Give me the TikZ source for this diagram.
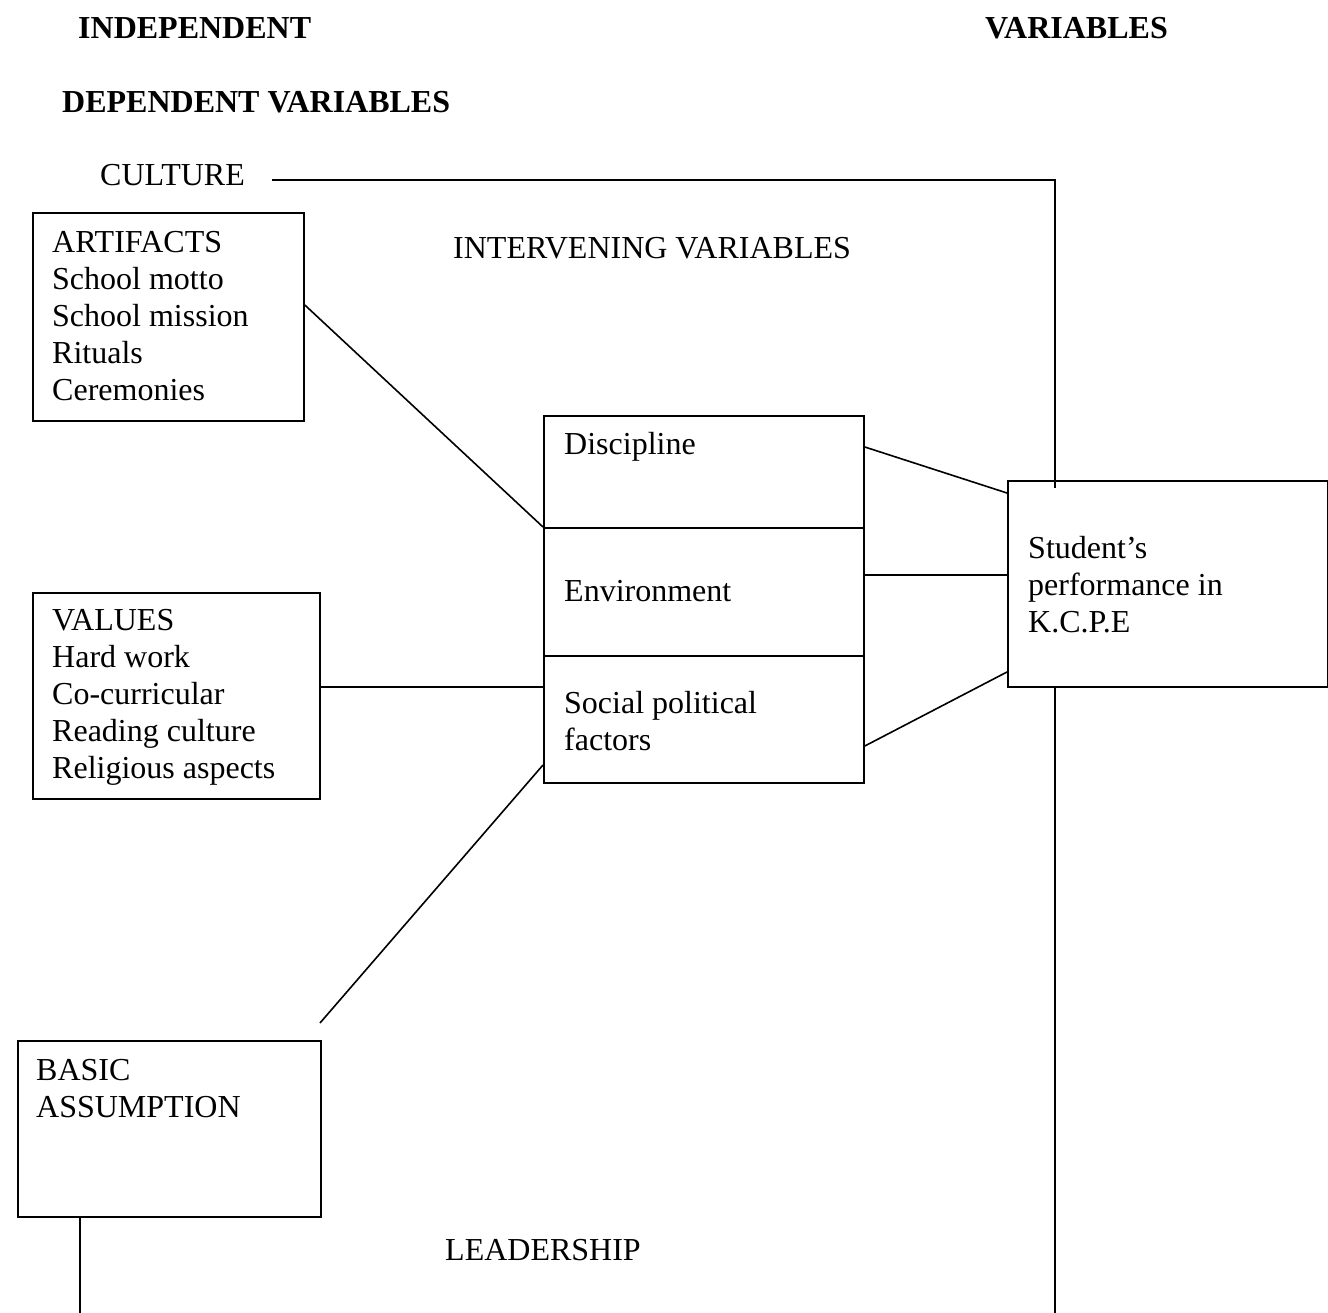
\documentclass[tikz,border=0pt]{standalone}
\usepackage{fontspec}
\setmainfont{Liberation Serif}
\begin{document}
\begin{tikzpicture}[x=1pt,y=-1pt,
  box/.style={draw, line width=1.8pt, inner sep=0pt, anchor=north west},
  txt/.style={inner sep=0pt, anchor=north west, align=left, font=\fontsize{32}{37}\selectfont},
  head/.style={txt, font=\fontsize{32}{37}\selectfont\bfseries},
  link/.style={line width=1.6pt}]
\useasboundingbox (0,0) rectangle (1328,1313);
% headings
\node[head] (indep) at (78,17) {INDEPENDENT};
\node[head] (vars) at (985,17) {VARIABLES};
\node[head] (dep) at (62,91) {DEPENDENT VARIABLES};
\node[txt] (culture) at (100,164) {CULTURE};
\node[txt] (interv) at (453,237) {INTERVENING VARIABLES};
\node[txt] (lead) at (445,1239) {LEADERSHIP};
% boxes
\node[box, minimum width=271pt, minimum height=208pt] (art) at (32,212) {};
\node[txt] (arttxt) at (52,231) {ARTIFACTS\\School motto\\School mission\\Rituals\\Ceremonies};
\node[box, minimum width=287pt, minimum height=206pt] (val) at (32,592) {};
\node[txt] (valtxt) at (52,609) {VALUES\\Hard work\\Co-curricular\\Reading culture\\Religious aspects};
\node[box, minimum width=303pt, minimum height=176pt] (bas) at (17,1040) {};
\node[txt] (bastxt) at (36,1059) {BASIC\\ASSUMPTION};
\node[box, minimum width=320pt, minimum height=112pt] (disc) at (543,415) {};
\node[box, minimum width=320pt, minimum height=128pt] (env) at (543,527) {};
\node[box, minimum width=320pt, minimum height=127pt] (soc) at (543,655) {};
\node[txt] (disctxt) at (564,432) {Discipline};
\node[txt] (envtxt) at (564,580) {Environment};
\node[txt] (soctxt) at (564,691) {Social political\\factors};
\node[box, minimum width=320pt, minimum height=206pt] (stu) at (1007,480) {};
\node[txt] (stutxt) at (1028,536) {Student’s\\performance in\\K.C.P.E};
% free ends
\coordinate (cultend) at (272,180);
\coordinate (cultcorner) at (1055,180);
\coordinate (cultin) at (1055,488);
\coordinate (basend) at (320,1023);
\coordinate (botL) at (80,1313);
\coordinate (botR) at (1055,1313);
% connectors
\draw[link] (cultend) -- (cultcorner) -- (cultin);
\draw[link] (art.east |- 0,305) -- (env.north west);
\draw[link] (val.east |- 0,687) -- (soc.west |- 0,687);
\draw[link] (basend) -- (soc.west |- 0,765);
\draw[link] (disc.east |- 0,447) -- (stu.west |- 0,493);
\draw[link] (env.east |- 0,575) -- (stu.west |- 0,575);
\draw[link] (soc.east |- 0,746) -- (stu.west |- 0,672);
\draw[link] (stu.south -| botR) -- (botR);
\draw[link] (bas.south -| botL) -- (botL);
\end{tikzpicture}
\end{document}
